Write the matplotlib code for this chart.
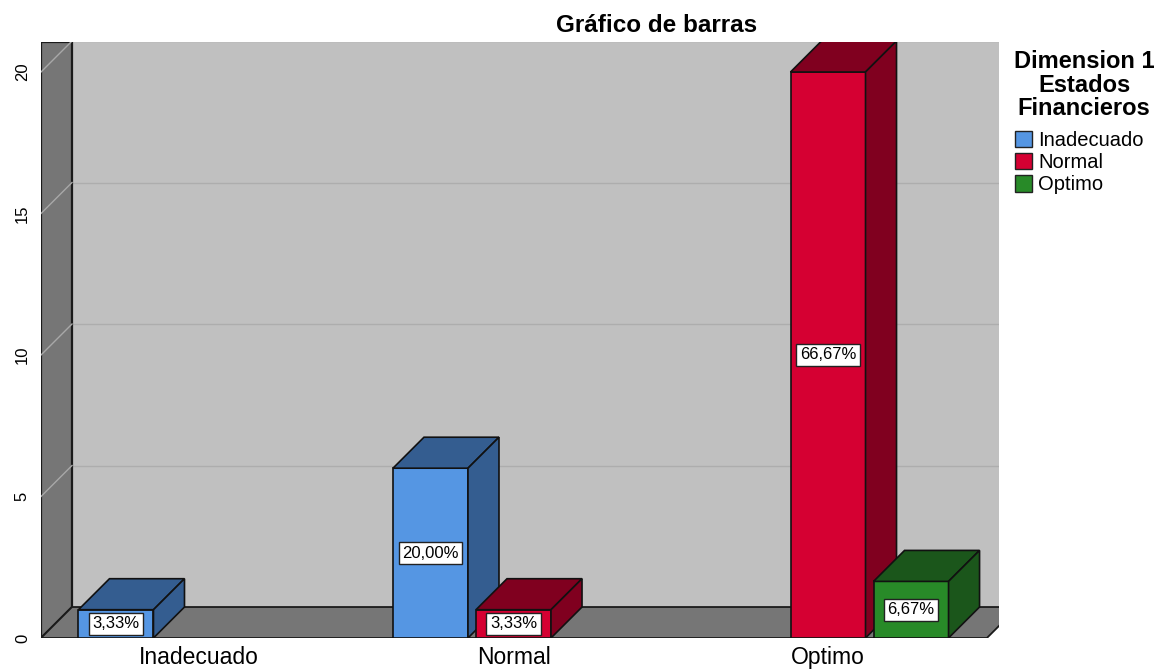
import numpy as np
import matplotlib.pyplot as plt
from matplotlib.patches import Polygon, Patch

plt.rcParams['font.family'] = ['Liberation Sans', 'DejaVu Sans']

# datos
categorias = ['Inadecuado', 'Normal', 'Optimo']
series = ['Inadecuado', 'Normal', 'Optimo']
conteo_inadecuado = [1, 6, 0]
conteo_normal = [0, 1, 20]
conteo_optimo = [0, 0, 2]
yticks = [0, 5, 10, 15, 20]

colores_frente = ['#5596e3', '#d50032', '#288a28']
colores_lado = ['#345d90', '#80001f', '#1b561b']

conteos = [conteo_inadecuado, conteo_normal, conteo_optimo]
total = sum(sum(c) for c in conteos)

# geometria (unidades de datos)
slot = 0.264
ancho = 0.2385
dx = 0.0986
dy = 1.095
x_izq, x_der = -0.5024, 2.5437
y_max = 21.06

fig = plt.figure(figsize=(11.6, 6.7), dpi=100)
ax = fig.add_axes([41 / 1160, 32 / 670, 958 / 1160, 596 / 670])
ax.set_xlim(x_izq, x_der)
ax.set_ylim(0, y_max)

# pared del fondo
ax.add_patch(Polygon([(x_izq + dx, dy), (x_der, dy), (x_der, y_max), (x_izq + dx, y_max)],
                     closed=True, facecolor='#c0c0c0', edgecolor='none', zorder=0))
for v in yticks[1:]:
    ax.plot([x_izq + dx, x_der], [v + dy, v + dy], color='#adadad', lw=1, zorder=1)

# pared izquierda
ax.add_patch(Polygon([(x_izq, 0), (x_izq, y_max), (x_izq + dx, y_max), (x_izq + dx, dy)],
                     closed=True, facecolor='#767676', edgecolor='#1a1a1a', lw=1.6, zorder=1))
for v in yticks[1:]:
    ax.plot([x_izq, x_izq + dx], [v, v + dy], color='#a8a8a8', lw=1, zorder=2)

# piso
piso_der = x_der - 0.39 * dx
ax.add_patch(Polygon([(x_izq, 0), (x_izq + dx, dy), (piso_der + dx, dy), (piso_der, 0)],
                     closed=True, facecolor='#767676', edgecolor='#1a1a1a', lw=1.3, zorder=2))

# barras 3D
for i, cat in enumerate(categorias):
    for j in range(len(series)):
        h = conteos[j][i]
        if h == 0:
            continue
        xc = i + (j - 1) * slot
        x0 = xc - ancho / 2
        x1 = xc + ancho / 2
        ax.add_patch(Polygon([(x0, 0), (x1, 0), (x1, h), (x0, h)], closed=True,
                             facecolor=colores_frente[j], edgecolor='#111111', lw=1.2, zorder=3))
        ax.add_patch(Polygon([(x0, h), (x1, h), (x1 + dx, h + dy), (x0 + dx, h + dy)], closed=True,
                             facecolor=colores_lado[j], edgecolor='#111111', lw=1.2, zorder=3))
        ax.add_patch(Polygon([(x1, 0), (x1 + dx, dy), (x1 + dx, h + dy), (x1, h)], closed=True,
                             facecolor=colores_lado[j], edgecolor='#111111', lw=1.2, zorder=3))
        pct = f"{100 * h / total:.2f}".replace('.', ',') + '%'
        ax.text(xc, h / 2, pct, ha='center', va='center', fontsize=12, zorder=5,
                bbox=dict(boxstyle='square,pad=0.22', facecolor='white', edgecolor='#222222', lw=1))

for s in ax.spines.values():
    s.set_visible(False)
ax.set_xticks(range(len(categorias)), categorias, fontsize=16.5)
ax.set_yticks(yticks, [str(v) for v in yticks], rotation=90, va='center', fontsize=12)
ax.tick_params(axis='x', length=0, pad=5.5)
ax.tick_params(axis='y', length=0, pad=8)

fig.text(657 / 1160, 1 - 25 / 670, 'Gráfico de barras', ha='center', va='center',
         fontsize=17.5, fontweight='bold')
fig.text(1084 / 1160, 1 - 85 / 670, 'Dimension 1\nEstados\nFinancieros',
         ha='center', va='center', multialignment='center', fontsize=17, fontweight='bold',
         linespacing=1.02)

handles = [Patch(facecolor=c, edgecolor='#222222', lw=1) for c in colores_frente]
fig.legend(handles, series, loc='upper left', bbox_to_anchor=(1015 / 1160, 1 - 131 / 670),
           frameon=False, fontsize=14.5, handlelength=0.85, handleheight=0.85,
           handletextpad=0.3, labelspacing=0.16, borderpad=0, borderaxespad=0)

fig.savefig('out.png', dpi=100)
